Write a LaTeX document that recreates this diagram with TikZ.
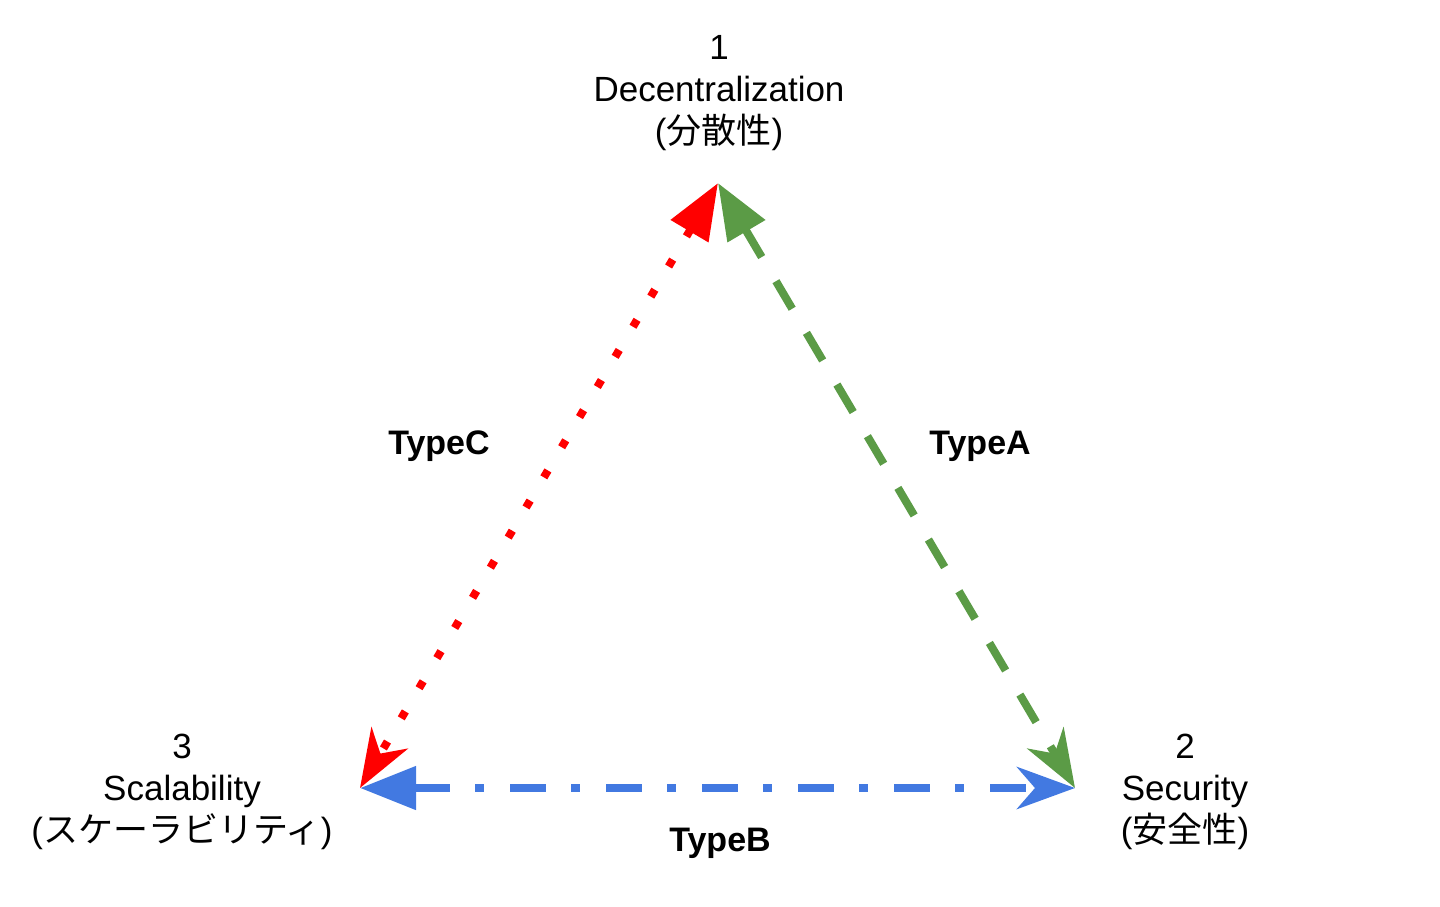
\documentclass[tikz,border=0pt]{standalone}
\usepackage{fontspec}
\setmainfont{Liberation Sans}
\newfontfamily\jpfont{Noto Sans CJK JP}
\usetikzlibrary{positioning, calc, arrows.meta}
\definecolor{clRed}  {RGB}{255,  0,  0}
\definecolor{clGreen}{RGB}{ 91,155, 70}
\definecolor{clBlue} {RGB}{ 66,121,225}
\tikzset{
  corner/.style={
    align=center, inner sep=0pt, anchor=north,
    font=\fontsize{35}{42}\selectfont
  },
  typelbl/.style={
    inner sep=0pt, font=\fontsize{34}{40}\selectfont\bfseries
  },
  edge/.style={
    line width=8pt,
    {Triangle[length=56pt, width=42pt]}-{Stealth[length=58pt, width=42pt, inset=18pt]}
  },
  typeA/.style={edge, color=clGreen, dash pattern=on 32pt off 28pt},
  typeB/.style={edge, color=clBlue, dash pattern=on 36pt off 25pt on 9pt off 26pt},
  typeC/.style={edge, color=clRed, dash pattern=on 8pt off 27pt}
}
\begin{document}
\begin{tikzpicture}[x=1pt, y=-1pt]
    \useasboundingbox (0,0) rectangle (1440,906);

    % ============================================================
    % CORNERS OF THE TRIANGLE
    % ============================================================
    \coordinate (dec) at (718,183);
    \coordinate (sec) at (1075,788);
    \coordinate (sca) at (360,788);

    \node (decText) [corner] at (719,35) {
      1\\
      Decentralization\\
      ({\jpfont 分散性})
    };

    \node (secText) [corner] at (1185,734) {
      2\\
      Security\\
      ({\jpfont 安全性})
    };

    \node (scaText) [corner] at (182,734) {
      3\\
      Scalability\\
      ({\jpfont スケーラビリティ})
    };

    % ============================================================
    % CONNECTIONS
    % ============================================================
    \draw [typeA] (dec) -- (sec);
    \draw [typeC] (dec) -- (sca);
    \draw [typeB] (sca) -- (sec);

    % Labels beside the sides
    \node (lblA) [typelbl] at (980,446) {TypeA};
    \node (lblB) [typelbl] at (720,843) {TypeB};
    \node (lblC) [typelbl] at (439,446) {TypeC};

\end{tikzpicture}
\end{document}
